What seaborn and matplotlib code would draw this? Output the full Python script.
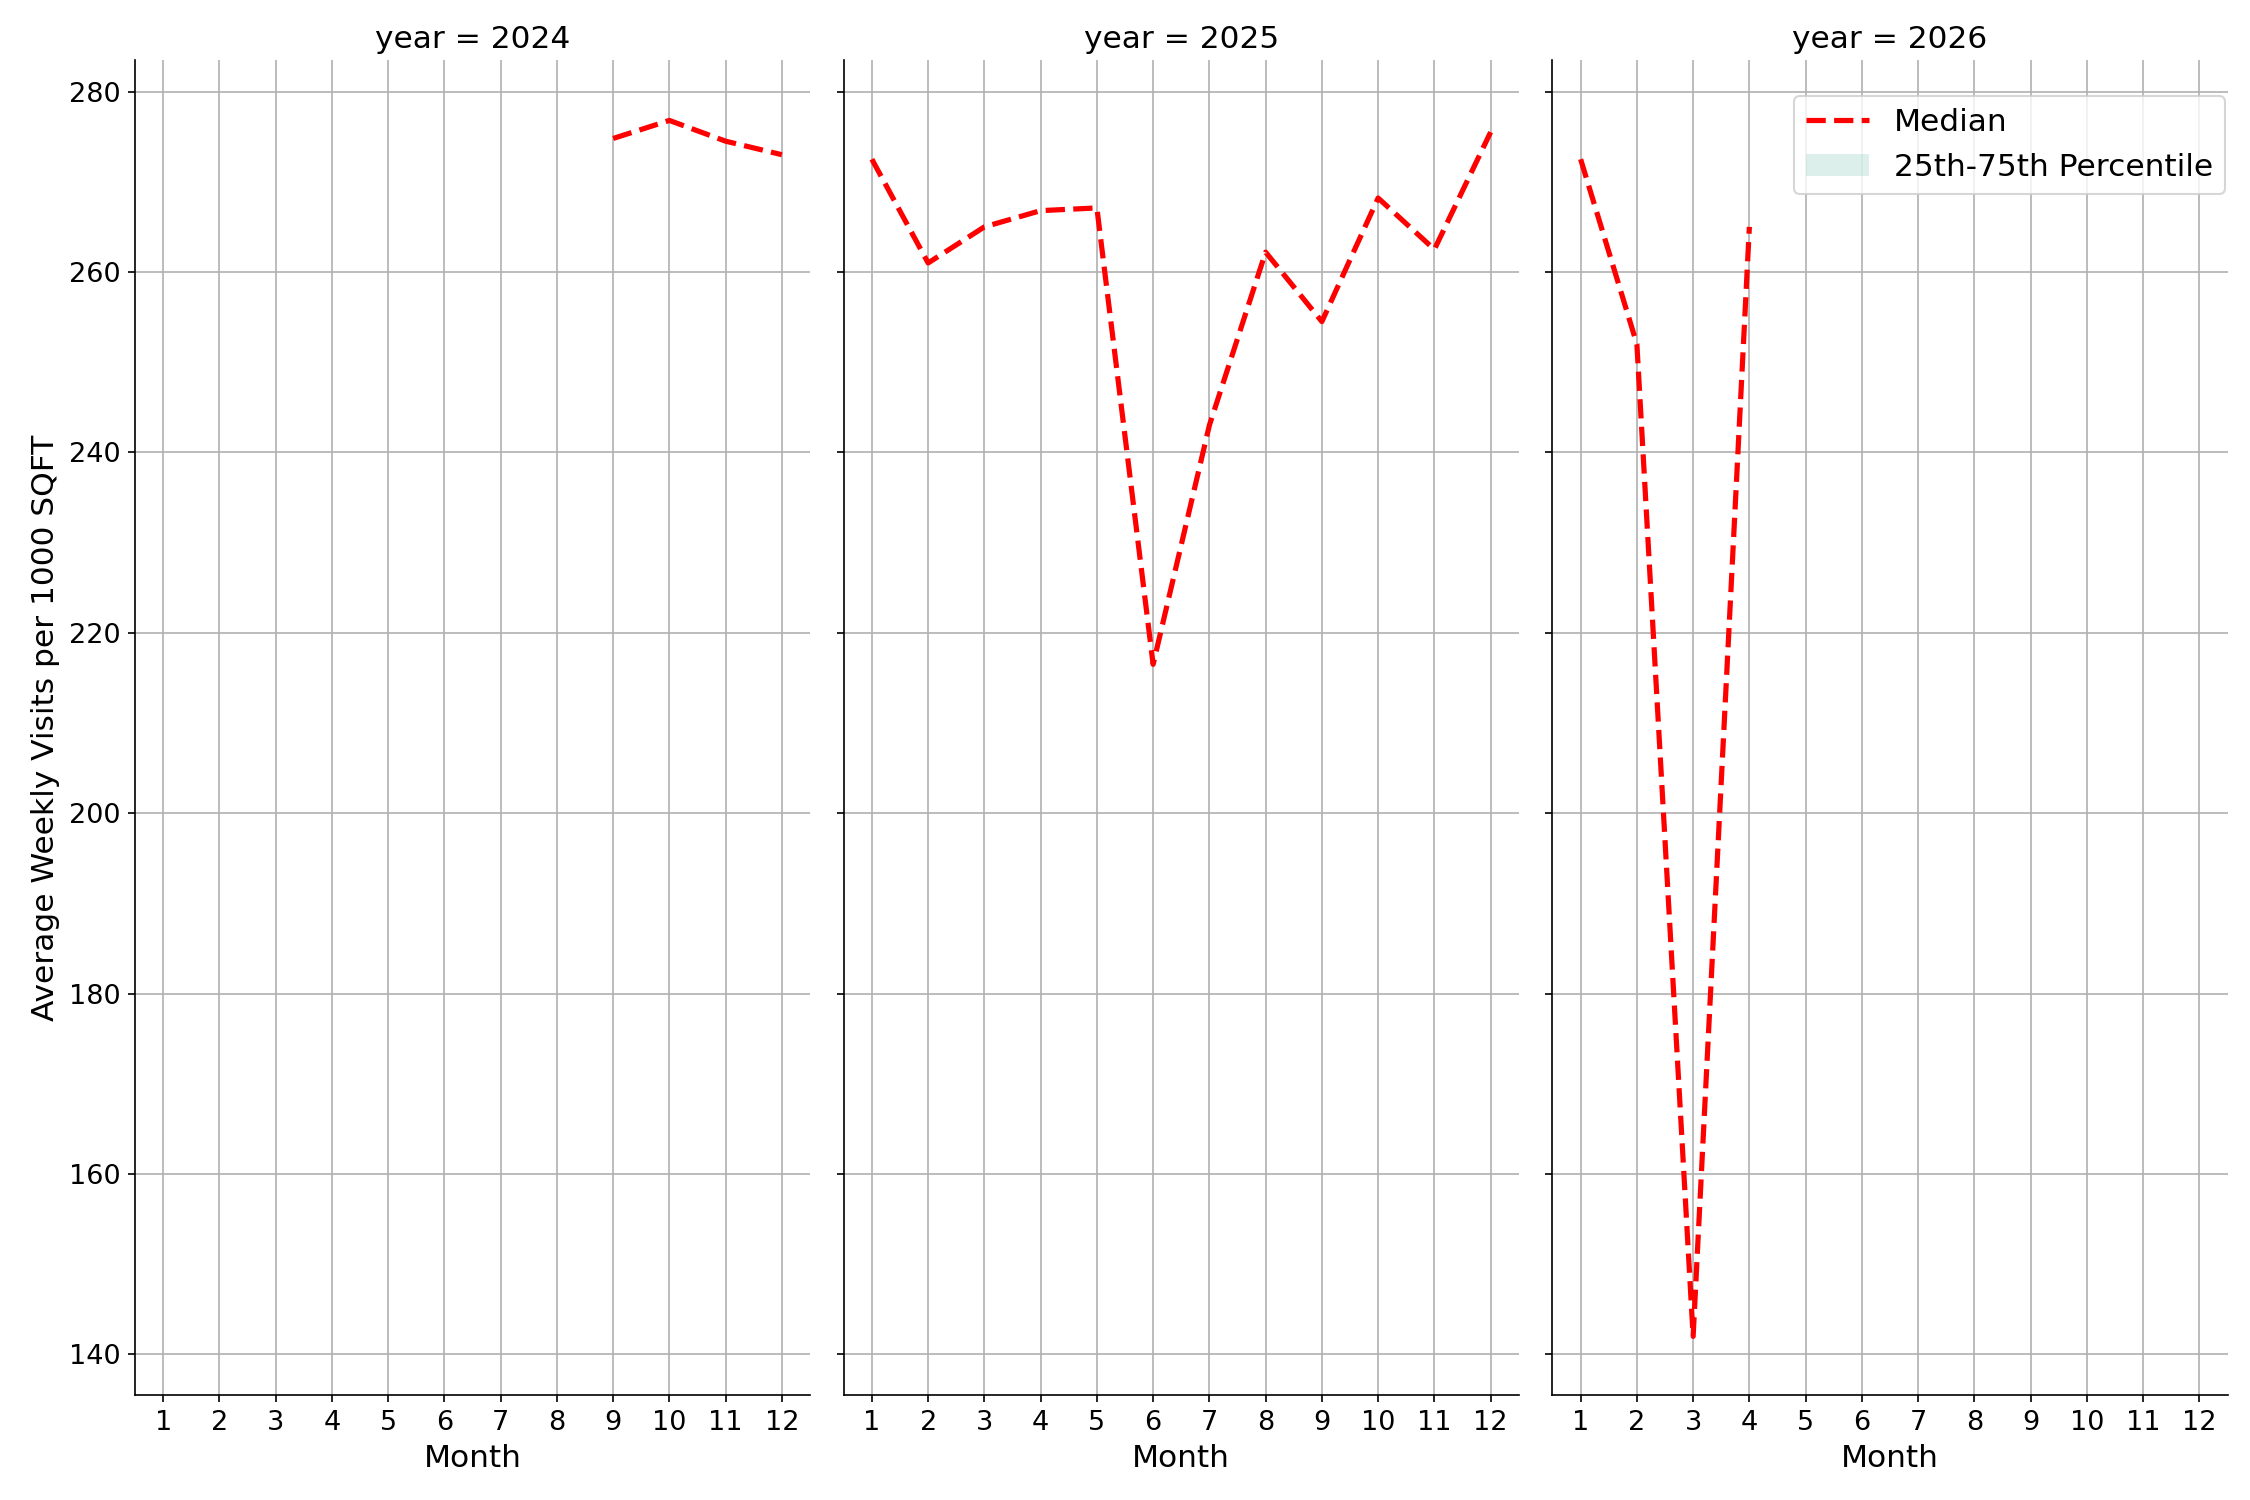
import matplotlib
matplotlib.use("Agg")
import matplotlib.pyplot as plt
import seaborn as sns
import pandas as pd
from matplotlib.patches import Patch
from matplotlib.lines import Line2D

years = [2024]*4 + [2025]*12 + [2026]*4
months = [9, 10, 11, 12] + list(range(1, 13)) + [1, 2, 3, 4]
medians = [274.8, 276.8, 274.5, 273.0,
           272.5, 261.0, 265.0, 266.8, 267.1, 216.5, 243.0, 262.2, 254.5, 268.2, 262.5, 275.5,
           272.5, 252.0, 142.0, 265.0]
df = pd.DataFrame({"year": years, "month": months, "median": medians})

g = sns.FacetGrid(df, col="year", col_order=[2024, 2025, 2026], sharey=True,
                  height=10, aspect=0.5)
g.figure.set_size_inches(15, 10)

def draw(data, **kw):
    ax = plt.gca()
    sns.lineplot(data=data, x="month", y="median", ax=ax, color="red",
                 linestyle="--", linewidth=2.5)

g.map_dataframe(draw)
g.set_titles("year = {col_name}", size=15)
for ax in g.axes.flat:
    ax.set_xticks(range(1, 13))
    ax.set_xlim(0.5, 12.5)
    ax.set_ylim(135.5, 283.5)
    ax.set_yticks(range(140, 281, 20))
    ax.grid(True, color="#b0b0b0")
    ax.set_axisbelow(True)
    ax.tick_params(labelsize=13)
    ax.set_xlabel("Month", fontsize=15)
    ax.set_ylabel("")
g.axes.flat[0].set_ylabel("Average Weekly Visits per 1000 SQFT", fontsize=15)
handles = [Line2D([0], [0], color="red", linestyle="--", linewidth=2.5),
           Patch(facecolor="#a8d8cc", alpha=0.4)]
g.axes.flat[2].legend(handles, ["Median", "25th-75th Percentile"], loc="upper right",
                      fontsize=15, bbox_to_anchor=(1.02, 0.985))
g.figure.subplots_adjust(left=0.06, right=0.99, bottom=0.07, top=0.96, wspace=0.05)
g.figure.savefig("out.png", dpi=150)
